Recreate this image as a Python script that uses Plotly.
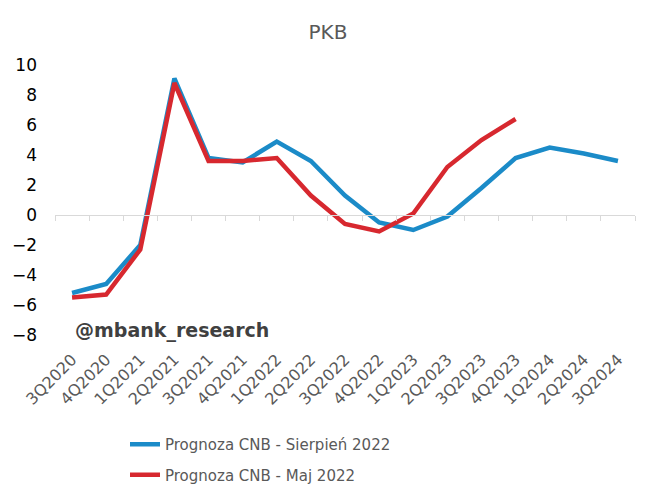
import plotly.graph_objects as go

categories = ["3Q2020", "4Q2020", "1Q2021", "2Q2021", "3Q2021", "4Q2021", "1Q2022", "2Q2022",
              "3Q2022", "4Q2022", "1Q2023", "2Q2023", "3Q2023", "4Q2023", "1Q2024", "2Q2024", "3Q2024"]
sierpien_2022 = [-5.2, -4.6, -2.0, 9.1, 3.8, 3.5, 4.9, 3.6, 1.3, -0.5, -1.0, -0.1, 1.8, 3.8, 4.5, 4.1, 3.6]
maj_2022 = [-5.5, -5.3, -2.3, 8.8, 3.6, 3.6, 3.8, 1.3, -0.6, -1.1, 0.1, 3.2, 5.0, 6.4, None, None, None]
y_ticks = [-8, -6, -4, -2, 0, 2, 4, 6, 8, 10]

FONT = "DejaVu Sans"
fig = go.Figure()
fig.add_trace(go.Scatter(x=categories, y=sierpien_2022, mode="lines", name="Prognoza CNB - Sierpień 2022",
                         legendgroup="a", line=dict(color="#1B8BC8", width=4.5)))
fig.add_trace(go.Scatter(x=categories, y=maj_2022, mode="lines", name="Prognoza CNB - Maj 2022",
                         legendgroup="b", line=dict(color="#D7282F", width=4.5)))
# dummy trace for the zero-line axis with boundary ticks
fig.add_trace(go.Scatter(x=categories, y=[None] * len(categories), xaxis="x2", showlegend=False,
                         hoverinfo="skip", mode="lines"))

fig.update_layout(
    width=656, height=504,
    margin=dict(l=55, r=21, t=65, b=169, autoexpand=False),
    paper_bgcolor="white", plot_bgcolor="white",
    title=dict(text="PKB", x=0.5, xanchor="center", y=1 - 32 / 504, yanchor="middle",
               font=dict(family=FONT, size=20, color="#595959")),
    xaxis=dict(type="category", showgrid=False, showline=False, zeroline=False, ticks="outside",
               ticklen=8, tickcolor="rgba(0,0,0,0)", automargin=False,
               tickangle=-45, tickfont=dict(family=FONT, size=16, color="#595959"),
               range=[-0.5, len(categories) - 0.5]),
    xaxis2=dict(type="category", overlaying="x", anchor="free", position=8 / 18, matches="x",
                showline=True, linecolor="#D9D9D9", linewidth=1, ticks="outside", tickson="boundaries",
                ticklen=5, tickcolor="#D9D9D9", showticklabels=False, showgrid=False, automargin=False),
    yaxis=dict(range=[-8, 10], tickvals=y_ticks, showgrid=False, zeroline=False, showline=False,
               automargin=False,
               tickfont=dict(family=FONT, size=17, color="#000000"), ticklabelstandoff=17),
    legend=dict(orientation="v", x=(125 - 55) / 580, xanchor="left", y=-(428 - 335) / 270, yanchor="top",
                font=dict(family=FONT, size=15, color="#595959"), itemwidth=30, tracegroupgap=8),
    showlegend=True,
)
fig.add_annotation(text="<b>@mbank_research</b>", xref="paper", yref="paper",
                   x=(73 - 55) / 580, xanchor="left", y=(335 - 330) / 270, yanchor="middle",
                   showarrow=False, font=dict(family=FONT, size=19, color="#404040"))

fig.write_html("out.html")
